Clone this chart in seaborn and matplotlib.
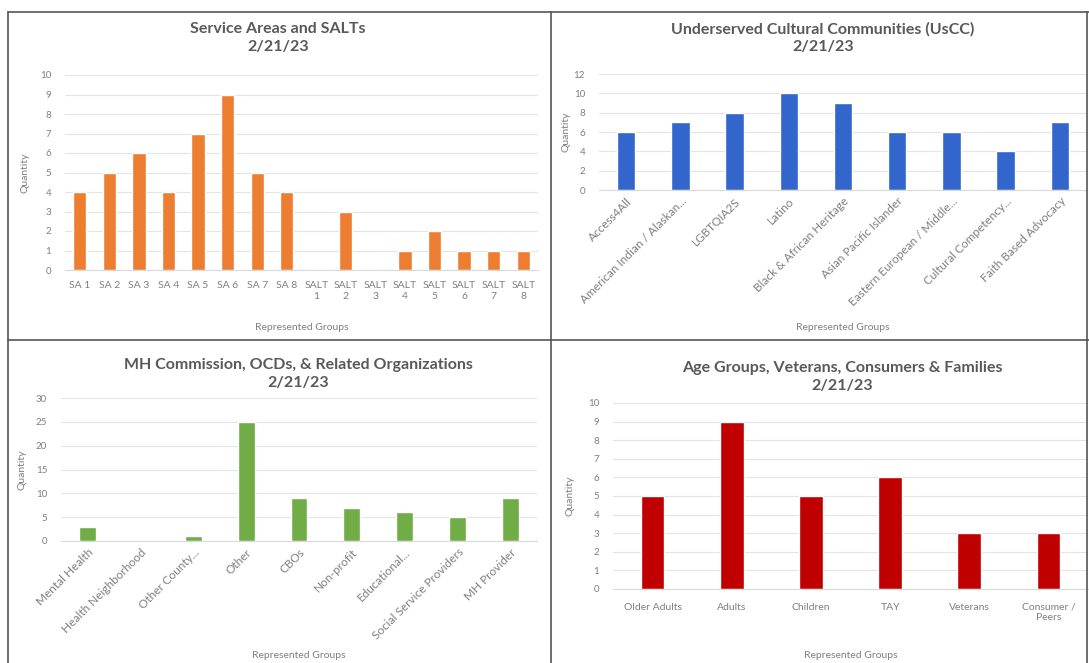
import matplotlib
matplotlib.use('Agg')
import matplotlib.pyplot as plt
import seaborn as sns
from matplotlib.lines import Line2D

# data
sa_groups = ['SA 1', 'SA 2', 'SA 3', 'SA 4', 'SA 5', 'SA 6', 'SA 7', 'SA 8',
             'SALT\n1', 'SALT\n2', 'SALT\n3', 'SALT\n4', 'SALT\n5', 'SALT\n6', 'SALT\n7', 'SALT\n8']
sa_counts = [4, 5, 6, 4, 7, 9, 5, 4, 0, 3, 0, 1, 2, 1, 1, 1]

uscc_groups = ['Access4All', 'American Indian / Alaskan...', 'LGBTQIA2S', 'Latino',
               'Black & African Heritage', 'Asian Pacific Islander', 'Eastern European / Middle...',
               'Cultural Competency...', 'Faith Based Advocacy']
uscc_counts = [6, 7, 8, 10, 9, 6, 6, 4, 7]

mh_groups = ['Mental Health', 'Health Neighborhood', 'Other County...', 'Other', 'CBOs',
             'Non-profit', 'Educational...', 'Social Service Providers', 'MH Provider']
mh_counts = [3, 0, 1, 25, 9, 7, 6, 5, 9]

age_groups = ['Older Adults', 'Adults', 'Children', 'TAY', 'Veterans', 'Consumer /\nPeers']
age_counts = [5, 9, 5, 6, 3, 3]

sns.set_style('white')
plt.rcParams['font.family'] = ['Lato', 'DejaVu Sans']

W, H = 1089, 663
fig = plt.figure(figsize=(W / 100, H / 100), dpi=100)


def px(l, t, r, b):
    return [l / W, 1 - b / H, (r - l) / W, (b - t) / H]


panels = [
    # groups, counts, color, box, ymax, step, bar width, rotate, xpad, title, title pos, ylabel x, xlabel y
    (sa_groups, sa_counts, '#ED7D31', (65, 75, 538, 270), 10, 1, 0.45, False, 8,
     'Service Areas and SALTs', (278, 38), 25, 327),
    (uscc_groups, uscc_counts, '#3366CC', (599, 74, 1087, 190), 12, 2, 0.34, True, 4,
     'Underserved Cultural Communities (UsCC)', (823, 38), 566, 327),
    (mh_groups, mh_counts, '#70AD47', (61, 398, 537, 541), 30, 5, 0.32, True, 4,
     'MH Commission, OCDs, & Related Organizations', (298, 374), 22, 655),
    (age_groups, age_counts, '#C00000', (613, 403, 1088, 589), 10, 1, 0.3, False, 10,
     'Age Groups, Veterans, Consumers & Families', (842, 377), 570, 655),
]

for groups, counts, color, box, ymax, step, bw, rot, xpad, title, tpos, ylx, xly in panels:
    ax = fig.add_axes(px(*box))
    sns.barplot(x=groups, y=counts, color=color, width=bw, saturation=1, ax=ax)
    ax.set_ylim(0, ymax)
    ax.set_yticks(range(0, ymax + 1, step))
    ax.grid(axis='y', color='#e4e4e4', linewidth=0.8)
    ax.set_axisbelow(True)
    for s in ['top', 'right', 'left']:
        ax.spines[s].set_visible(False)
    ax.spines['bottom'].set_color('#d9d9d9')
    ax.tick_params(axis='y', length=0, labelsize=7, labelcolor='#7f7f7f', pad=10)
    ax.tick_params(axis='x', length=0, labelsize=7.5 if not rot else 8.5, labelcolor='#7f7f7f', pad=xpad)
    if rot:
        for lab in ax.get_xticklabels():
            lab.set_rotation(45)
            lab.set_ha('right')
            lab.set_rotation_mode('anchor')
    ax.set_xlabel('')
    ax.set_ylabel('')
    fig.text(ylx / W, 1 - ((box[1] + box[3]) / 2) / H, 'Quantity', rotation=90,
             ha='center', va='center', fontsize=7.5, color='#7f7f7f')
    fig.text(((box[0] + box[2]) / 2) / W, 1 - xly / H, 'Represented Groups',
             ha='center', va='center', fontsize=7.5, color='#7f7f7f')
    fig.text(tpos[0] / W, 1 - tpos[1] / H, title + '\n2/21/23', ha='center', va='center',
             fontsize=11.5, fontweight='bold', color='#595959', linespacing=1.3)

# panel frames
frame = dict(color='#555555', linewidth=1.2, transform=fig.transFigure)
for xs, ys in [((8, 1089), (12, 12)), ((8, 8), (12, 663)), ((551, 551), (12, 663)),
               ((8, 1089), (340, 340)), ((1087, 1087), (12, 663))]:
    fig.add_artist(Line2D([x / W for x in xs], [1 - y / H for y in ys], **frame))

fig.savefig('out.png', dpi=100, facecolor='white')
